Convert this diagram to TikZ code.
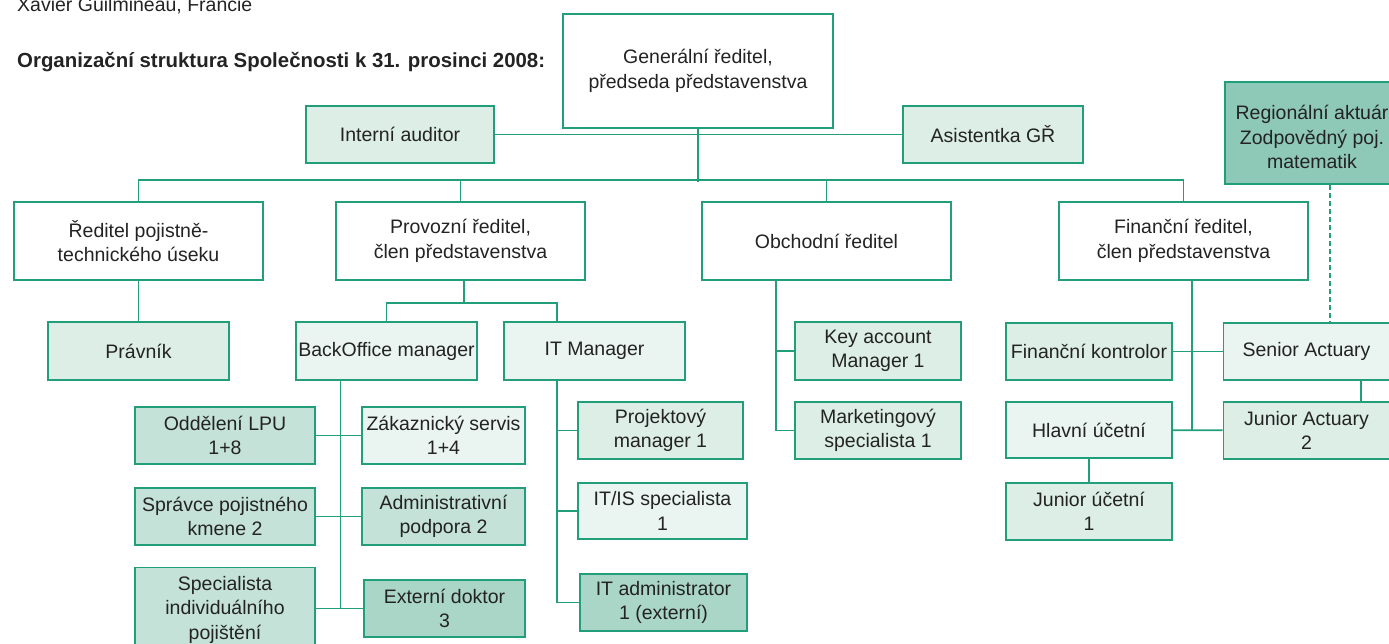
\documentclass[tikz,border=0pt]{standalone}
\usepackage{fontspec}
\setmainfont{Liberation Sans}
\usetikzlibrary{calc}
\definecolor{edge}{RGB}{34,158,122}
\definecolor{txt}{RGB}{35,35,35}
\definecolor{fa}{RGB}{234,244,240}
\definecolor{fb}{RGB}{221,238,231}
\definecolor{fc}{RGB}{196,226,215}
\definecolor{fd}{RGB}{170,214,200}
\definecolor{fe}{RGB}{142,200,182}
\tikzset{
  box/.style={draw=edge, line width=1.8pt, rectangle, inner sep=0pt, align=center,
    text=txt, font=\fontsize{19.5}{24.5}\selectfont},
  wbox/.style={box, fill=white},
  abox/.style={box, fill=fa},
  bbox/.style={box, fill=fb},
  cbox/.style={box, fill=fc},
  dbox/.style={box, fill=fd},
  ebox/.style={box, fill=fe},
  conn/.style={draw=edge, line width=1.8pt},
  dconn/.style={draw=edge, line width=1.8pt, dash pattern=on 5pt off 3pt},
}
\begin{document}
\begin{tikzpicture}[x=1pt,y=-1pt]
\useasboundingbox (0,0) rectangle (1389,644);
\clip (0,0) rectangle (1389,644);
% texts
\node[anchor=base west, inner sep=0pt, text=txt, font=\fontsize{19.5}{24}\selectfont] (auth) at (17,12) {Xavier Guilmineau, Francie};
\node[anchor=base west, inner sep=0pt, text=txt, font=\fontsize{20.4}{24}\selectfont\bfseries] (title) at (17,68) {Organizační struktura Společnosti k 31. prosinci 2008:};
% top
\node[wbox, minimum width=270, minimum height=114] (gen) at (698,71) {Generální ředitel,\\předseda představenstva};
\node[bbox, minimum width=188, minimum height=57] (ia) at (400,134.5) {Interní auditor};
\node[bbox, minimum width=180, minimum height=57] (as) at (993,134.5) {Asistentka GŘ};
\node[ebox, minimum width=174, minimum height=102] (reg) at (1312,133) {\rule{0pt}{23pt}Regionální aktuár\\Zodpovědný poj.\\matematik};
% level 2
\node[wbox, minimum width=249, minimum height=78] (rp) at (138.5,241) {Ředitel pojistně-\\technického úseku};
\node[wbox, minimum width=249, minimum height=78] (pr) at (460.5,241) {Provozní ředitel,\\člen představenstva};
\node[wbox, minimum width=249, minimum height=78] (ob) at (826.5,241) {Obchodní ředitel};
\node[wbox, minimum width=249, minimum height=78] (fi) at (1183.5,241) {Finanční ředitel,\\člen představenstva};
% level 3
\node[bbox, minimum width=181, minimum height=58] (prav) at (138.5,351) {Právník};
\node[abox, minimum width=181, minimum height=58] (bo) at (386.5,351) {BackOffice manager};
\node[abox, minimum width=181, minimum height=58] (it) at (594.5,351) {IT Manager};
\node[bbox, minimum width=166, minimum height=58] (ka) at (878,351) {Key account\\Manager 1};
\node[bbox, minimum width=166, minimum height=57] (mk) at (878,430.5) {Marketingový\\specialista 1};
\node[bbox, minimum width=166, minimum height=57] (fk) at (1089,351.5) {Finanční kontrolor};
\node[abox, minimum width=166, minimum height=57] (sa) at (1306.5,351.5) {Senior Actuary};
\node[abox, minimum width=166, minimum height=56] (hu) at (1089,430) {Hlavní účetní};
\node[bbox, minimum width=166, minimum height=57] (ja) at (1306.5,430.5) {Junior Actuary\\2};
\node[bbox, minimum width=166, minimum height=57] (ju) at (1089,511.5) {Junior účetní\\1};
% backoffice
\node[cbox, minimum width=180, minimum height=57] (lpu) at (225,435.5) {Oddělení LPU\\1+8};
\node[cbox, minimum width=180, minimum height=57] (spr) at (225,516.5) {Správce pojistného\\kmene 2};
\node[cbox, minimum width=180, minimum height=84] (spc) at (225,609.5) {Specialista\\individuálního\\pojištění};
\node[abox, minimum width=163, minimum height=57] (zak) at (443.5,435.5) {Zákaznický servis\\1+4};
\node[cbox, minimum width=163, minimum height=57] (adm) at (443.5,516.5) {Administrativní\\podpora 2};
\node[dbox, minimum width=161, minimum height=57] (ext) at (444.5,608.5) {Externí doktor\\3};
% IT
\node[bbox, minimum width=165, minimum height=57] (pm) at (660.5,430.5) {Projektový\\manager 1};
\node[abox, minimum width=169, minimum height=56] (itis) at (662.5,511) {IT/IS specialista\\1};
\node[dbox, minimum width=167, minimum height=57] (ita) at (663.5,602.5) {IT administrator\\1 (externí)};
% connectors top
\draw[conn] (ia) -- (as);
\draw[conn] (gen.south) -- ++(0,53);
\draw[conn] (rp.north) -- ++(0,-21) -| (fi.north);
\draw[conn] (pr.north) -- ++(0,-21);
\draw[conn] (ob.north) -- ++(0,-21);
\draw[dconn] ($(reg.south)+(18,0)$) -- ($(sa.north)+(23.5,0)$);
% level 2 -> 3
\draw[conn] (rp) -- (prav);
\coordinate (prb) at ($(pr.south)+(3.5,22)$);
\draw[conn] ($(pr.south)+(3.5,0)$) -- (prb);
\draw[conn] (bo.north) |- (prb) -| ($(it.north)+(-37.5,0)$);
% backoffice
\coordinate (bov) at ($(bo.south)+(-46,0)$);
\draw[conn] (bov) -- (bov |- ext.west);
\draw[conn] (lpu) -- (zak);
\draw[conn] (spr) -- (adm);
\draw[conn] (spc.east |- ext.west) -- (ext.west);
% IT
\coordinate (itv) at ($(it.south)+(-37.5,0)$);
\draw[conn] (itv) -- (itv |- ita.west);
\draw[conn] (itv |- pm.west) -- (pm.west);
\draw[conn] (itv |- itis.west) -- (itis.west);
\draw[conn] (itv |- ita.west) -- (ita.west);
% obchodni
\coordinate (obv) at ($(ob.south)+(-50.5,0)$);
\draw[conn] (obv) -- (obv |- mk.west);
\draw[conn] (obv |- ka.west) -- (ka.west);
\draw[conn] (obv |- mk.west) -- (mk.west);
% financni
\coordinate (fiv) at ($(fi.south)+(8.5,0)$);
\draw[conn] (fiv) -- (fiv |- hu.east);
\draw[conn] (fk) -- (sa);
\draw[conn] (hu) -- (ja);
\draw[conn] (hu) -- (ju);
\draw[conn] ($(sa.south)+(54.5,0)$) -- ($(ja.north)+(54.5,0)$);
\end{tikzpicture}
\end{document}
